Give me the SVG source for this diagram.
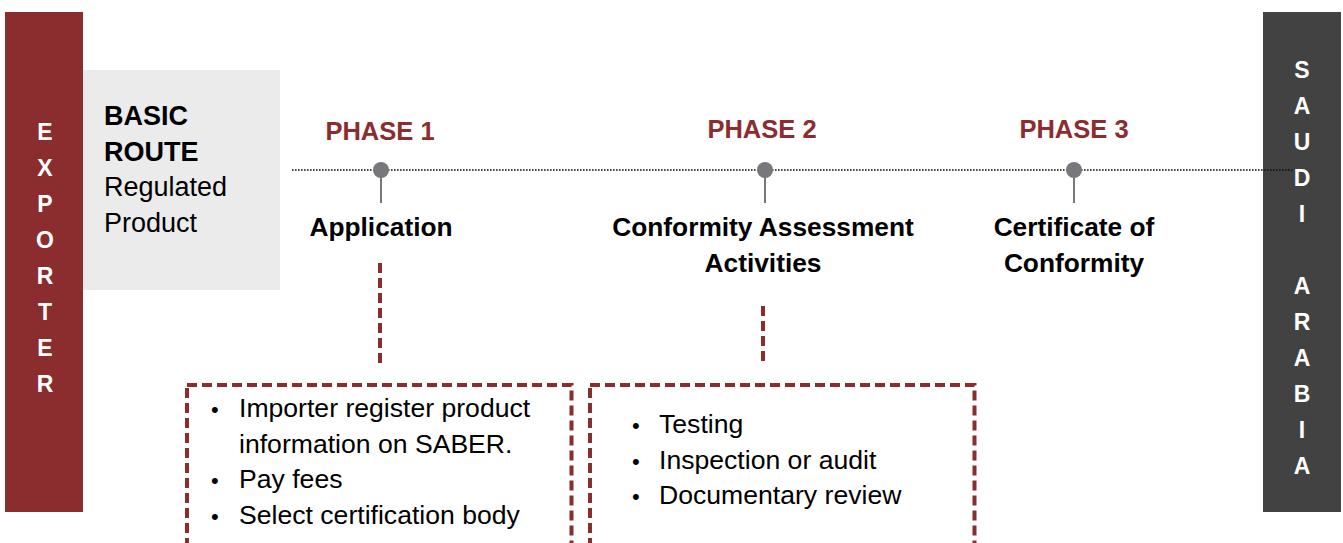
<svg xmlns="http://www.w3.org/2000/svg" width="1343" height="543" viewBox="0 0 1343 543">
<style>
.side{font-family:"Liberation Sans",Arial,sans-serif;font-weight:bold;font-size:23px;fill:#fff;text-anchor:middle}
.phase{font-family:"Liberation Sans",Arial,sans-serif;font-weight:bold;font-size:25.5px;fill:#8B2C2F;text-anchor:middle}
.lbl{font-family:"Liberation Sans",Arial,sans-serif;font-weight:bold;font-size:26.3px;fill:#000;text-anchor:middle}
.body{font-family:"Liberation Sans",Arial,sans-serif;font-size:26.6px;fill:#000}
.route{font-family:"Liberation Sans",Arial,sans-serif;font-size:27px;fill:#000}
.dash{fill:none;stroke:#8B2C2F;stroke-width:4;stroke-dasharray:10 5}
.dot{fill:#78777C}
.stem{stroke:#78777C;stroke-width:2}
</style>
<rect width="1343" height="543" fill="#fff"/>
<g id="exporter">
<rect x="5" y="12" width="78" height="500" fill="#8B2C2F"/>
<text class="side"><tspan x="45" y="140">E</tspan><tspan x="45" y="176">X</tspan><tspan x="45" y="212">P</tspan><tspan x="45" y="248">O</tspan><tspan x="45" y="284">R</tspan><tspan x="45" y="320">T</tspan><tspan x="45" y="356">E</tspan><tspan x="45" y="392">R</tspan></text>
</g>
<g id="saudi">
<rect x="1263" y="12" width="78" height="500" fill="#424242"/>
<text class="side"><tspan x="1302" y="78">S</tspan><tspan x="1302" y="114">A</tspan><tspan x="1302" y="150">U</tspan><tspan x="1302" y="186">D</tspan><tspan x="1302" y="222">I</tspan><tspan x="1302" y="294">A</tspan><tspan x="1302" y="330">R</tspan><tspan x="1302" y="366">A</tspan><tspan x="1302" y="402">B</tspan><tspan x="1302" y="438">I</tspan><tspan x="1302" y="474">A</tspan></text>
</g>
<g id="basic-route">
<rect x="83" y="70" width="197" height="220" fill="#EBEBEB"/>
<text class="route"><tspan x="104" y="125" font-weight="bold">BASIC</tspan><tspan x="104" y="161" font-weight="bold">ROUTE</tspan><tspan x="104" y="196">Regulated</tspan><tspan x="104" y="232">Product</tspan></text>
</g>
<g id="connectors">
<line x1="292" y1="170" x2="1293" y2="170" stroke="#111" stroke-width="1.6" stroke-dasharray="1.6 1.4"/>
<line class="stem" x1="381" y1="170" x2="381" y2="203"/>
<line class="stem" x1="765" y1="170" x2="765" y2="203"/>
<line class="stem" x1="1074" y1="170" x2="1074" y2="203"/>
<line class="dash" x1="380" y1="263" x2="380" y2="366"/>
<line class="dash" x1="763" y1="306" x2="763" y2="366"/>
</g>
<g id="phase1">
<circle class="dot" cx="381" cy="170" r="8"/>
<text class="phase" x="380" y="140">PHASE 1</text>
<text class="lbl" x="381" y="236">Application</text>
</g>
<g id="phase2">
<circle class="dot" cx="765" cy="170" r="8"/>
<text class="phase" x="762" y="138">PHASE 2</text>
<text class="lbl"><tspan x="763" y="236">Conformity Assessment</tspan><tspan x="763" y="272">Activities</tspan></text>
</g>
<g id="phase3">
<circle class="dot" cx="1074" cy="170" r="8"/>
<text class="phase" x="1074" y="138">PHASE 3</text>
<text class="lbl"><tspan x="1074" y="236">Certificate of</tspan><tspan x="1074" y="272">Conformity</tspan></text>
</g>
<g id="box1">
<rect class="dash" x="187" y="385" width="384.5" height="162"/>
<text class="body"><tspan x="211" y="417" font-size="22">•</tspan><tspan x="239" y="417">Importer register product</tspan><tspan x="239" y="452.5">information on SABER.</tspan><tspan x="211" y="488" font-size="22">•</tspan><tspan x="239" y="488">Pay fees</tspan><tspan x="211" y="524" font-size="22">•</tspan><tspan x="239" y="524">Select certification body</tspan></text>
</g>
<g id="box2">
<rect class="dash" x="590" y="385" width="384.5" height="162"/>
<text class="body"><tspan x="632" y="433" font-size="22">•</tspan><tspan x="659" y="433">Testing</tspan><tspan x="632" y="469" font-size="22">•</tspan><tspan x="659" y="469">Inspection or audit</tspan><tspan x="632" y="504" font-size="22">•</tspan><tspan x="659" y="504">Documentary review</tspan></text>
</g>
</svg>
